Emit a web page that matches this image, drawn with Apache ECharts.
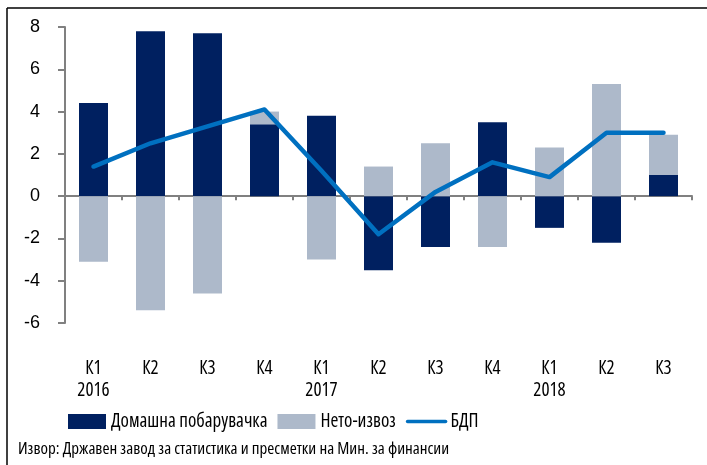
<!DOCTYPE html>
<html>
<head>
<meta charset="utf-8">
<script src="https://cdn.jsdelivr.net/npm/echarts@6/dist/echarts.min.js"></script>
<style>html,body{margin:0;padding:0;background:#fff}#c{width:707px;height:465px}</style>
</head>
<body>
<div id="c"></div>
<script>
var categories = ['К1\n2016','К2','К3','К4','К1\n2017','К2','К3','К4','К1\n2018','К2','К3'];
var domesticDemand = [4.4, 7.8, 7.7, 3.4, 3.8, -3.5, -2.4, 3.5, -1.5, -2.2, 1.0];
var netExport = [-3.1, -5.4, -4.6, 0.6, -3.0, 1.4, 2.5, -2.4, 2.3, 5.3, 1.9];
var gdp = [1.4, 2.5, 3.3, 4.1, 1.2, -1.8, 0.2, 1.6, 0.9, 3.0, 3.0];
var seriesNames = ['Домашна побарувачка', 'Нето-извоз', 'БДП'];
var sourceText = 'Извор: Државен завод за статистика и пресметки на Мин. за финансии';

var narrowFam = '"Open Sans", "Roboto Condensed", sans-serif';
var narrowStretch = '500 condensed';
var chart = echarts.init(document.getElementById('c'), null, {renderer: 'canvas'});
chart.setOption({
  animation: false,
  backgroundColor: '#ffffff',
  grid: {left: 65, right: 15, top: 27, bottom: 142, containLabel: false},
  legend: {
    left: 68, top: 412, padding: 0,
    itemWidth: 38, itemHeight: 15, itemGap: 10,
    textStyle: {fontFamily: narrowFam, fontWeight: narrowStretch, fontSize: 19, color: '#000'},
    data: [
      {name: seriesNames[0], icon: 'rect'},
      {name: seriesNames[1], icon: 'rect'},
      {name: seriesNames[2], itemStyle: {opacity: 0}, lineStyle: {width: 3.5}}
    ]
  },
  xAxis: [
    {
      type: 'category', data: categories,
      axisLine: {onZero: true, lineStyle: {color: '#808080', width: 2}},
      axisTick: {show: true, length: 4, lineStyle: {color: '#808080', width: 2}},
      axisLabel: {show: false}
    },
    {
      type: 'category', data: categories, position: 'bottom',
      axisLine: {show: false, onZero: false},
      axisTick: {show: false},
      axisLabel: {show: true, margin: 35, fontFamily: narrowFam, fontWeight: narrowStretch, fontSize: 19, lineHeight: 22, color: '#000', interval: 0}
    }
  ],
  yAxis: {
    type: 'value', min: -6, max: 8, interval: 2,
    axisLine: {show: true, lineStyle: {color: '#808080', width: 2}},
    axisTick: {show: true, length: 7, lineStyle: {color: '#808080', width: 2}},
    splitLine: {show: false},
    axisLabel: {fontFamily: '"Liberation Sans", Arial, sans-serif', fontSize: 18, color: '#000', margin: 25}
  },
  series: [
    {name: seriesNames[0], type: 'bar', stack: 'a', data: domesticDemand, barWidth: 29,
     itemStyle: {color: '#002060'}},
    {name: seriesNames[1], type: 'bar', stack: 'a', data: netExport, barWidth: 29,
     itemStyle: {color: '#ADB9CA'}},
    {name: seriesNames[2], type: 'line', data: gdp, symbol: 'none', showSymbol: false, z: 5,
     lineStyle: {color: '#0070C0', width: 4.5, cap: 'round', join: 'round'},
     itemStyle: {color: '#0070C0'}}
  ],
  graphic: [
    {type: 'line', shape: {x1: 7, y1: 8, x2: 707, y2: 8}, style: {stroke: '#000', lineWidth: 1.5}},
    {type: 'line', shape: {x1: 7, y1: 8, x2: 7, y2: 465}, style: {stroke: '#000', lineWidth: 1.5}},
    {type: 'text', left: 18, top: 441, style: {text: sourceText, font: 'normal 500 condensed 17px ' + narrowFam, fill: '#000'}}
  ]
});
</script>
</body>
</html>
